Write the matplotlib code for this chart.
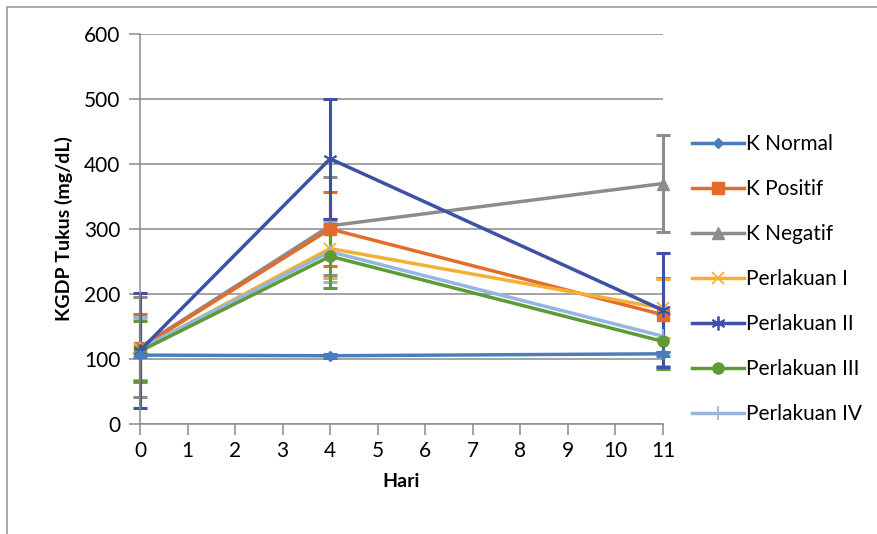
import matplotlib
matplotlib.use("Agg")
import matplotlib.pyplot as plt
from matplotlib.patches import Rectangle

plt.rcParams['font.family'] = ['Lato', 'DejaVu Sans']

days = [0, 4, 11]
series_names = ["K Normal", "K Positif", "K Negatif", "Perlakuan I",
                "Perlakuan II", "Perlakuan III", "Perlakuan IV"]
k_normal = [106, 105, 108]
k_positif = [117, 300, 168]
k_negatif = [118, 305, 370]
perlakuan_1 = [115, 270, 178]
perlakuan_2 = [113, 408, 175]
perlakuan_3 = [112, 258, 127]
perlakuan_4 = [116, 265, 135]

err_normal = [3, 3, 3]
err_positif = [53, 57, 57]
err_negatif = [77, 75, 75]
err_p1 = [48, 45, 45]
err_p2 = [89, 92, 88]
err_p3 = [46, 48, 43]
err_p4 = [48, 46, 45]

values = [k_normal, k_positif, k_negatif, perlakuan_1, perlakuan_2, perlakuan_3, perlakuan_4]
errors = [err_normal, err_positif, err_negatif, err_p1, err_p2, err_p3, err_p4]
colors = ["#4A7EBB", "#E46C2A", "#8C8C8C", "#F2B134", "#3F51A5", "#5E9A35", "#95B6E0"]
markers = ["D", "s", "^", "x", (6, 2, 0), "o", "|"]
msizes = [5.5, 8, 8, 9, 10, 8, 10]

x_ticks = list(range(0, 12))
y_ticks = [0, 100, 200, 300, 400, 500, 600]

fig = plt.figure(figsize=(8.78, 5.34), dpi=100)
fig.patches.append(Rectangle((7/878, -0.1), 1.2, (534-7)/534 + 0.1, transform=fig.transFigure,
                             fill=False, edgecolor="#9a9a9a", linewidth=1.2))
ax = fig.add_axes([140/878, 1-424/534, (663-140)/878, (424-34)/534])

order = [2, 1, 3, 6, 5, 4, 0]
handles = {}
for i in order:
    ax.errorbar(days, values[i], yerr=errors[i], color=colors[i], ecolor=colors[i],
                elinewidth=2.2, capsize=5, capthick=2.2, linestyle="none", zorder=2)
for i in order:
    mew = 1.3 if i in (3, 4, 6) else 1
    h, = ax.plot(days, values[i], color=colors[i], lw=2.5, marker=markers[i],
                 markersize=msizes[i], markeredgewidth=mew, label=series_names[i], zorder=3)
    handles[i] = h

ax.set_xlim(0, 11)
ax.set_ylim(0, 600)
ax.set_xticks(x_ticks)
ax.set_yticks(y_ticks)
ax.grid(axis="y", color="#8a8a8a", lw=1.1)
ax.set_axisbelow(True)
for s in ["top", "right"]:
    ax.spines[s].set_visible(False)
ax.spines["left"].set_color("#8a8a8a")
ax.spines["bottom"].set_color("#8a8a8a")
ax.spines["left"].set_linewidth(1.1)
ax.spines["bottom"].set_linewidth(1.1)
ax.tick_params(axis="both", colors="#8a8a8a", labelcolor="black", labelsize=15, length=8, width=1.1)
ax.tick_params(axis="x", pad=4)
ax.tick_params(axis="y", pad=6)
for c in ax.get_children():
    try:
        c.set_clip_on(False)
    except Exception:
        pass

ax.set_xlabel("Hari", fontsize=14, fontweight="bold", labelpad=9)
ax.set_ylabel("KGDP Tukus (mg/dL)", fontsize=14, fontweight="bold", labelpad=8)

leg = fig.legend([handles[i] for i in range(7)], series_names, loc="upper left",
                 bbox_to_anchor=(684/878, 1-126/534), frameon=False, fontsize=15,
                 handlelength=2.5, labelspacing=1.2, handletextpad=0.1, borderaxespad=0)

fig.savefig("out.png", dpi=100)
